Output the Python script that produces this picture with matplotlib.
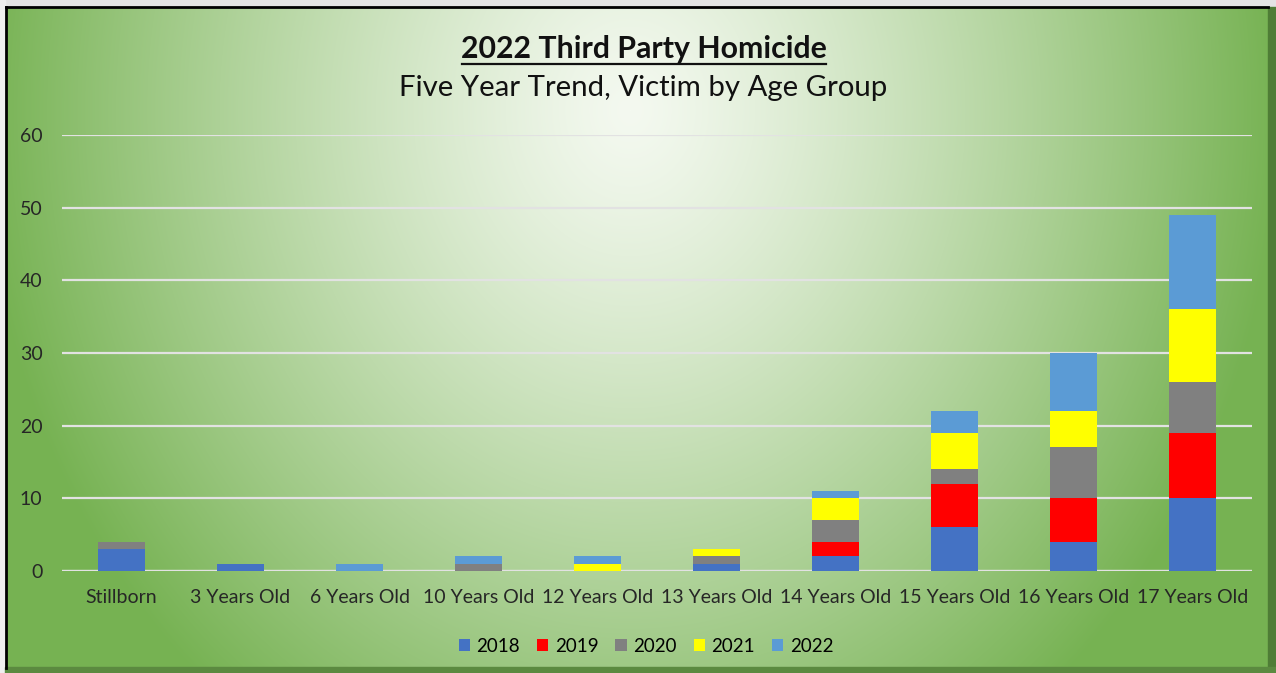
import matplotlib.pyplot as plt
import numpy as np
from matplotlib.patches import Rectangle

categories = ["Stillborn", "3 Years Old", "6 Years Old", "10 Years Old", "12 Years Old",
              "13 Years Old", "14 Years Old", "15 Years Old", "16 Years Old", "17 Years Old"]
years = ["2018", "2019", "2020", "2021", "2022"]
v2018 = [3, 1, 0, 0, 0, 1, 2, 6, 4, 10]
v2019 = [0, 0, 0, 0, 0, 0, 2, 6, 6, 9]
v2020 = [1, 0, 0, 1, 0, 1, 3, 2, 7, 7]
v2021 = [0, 0, 0, 0, 1, 1, 3, 5, 5, 10]
v2022 = [0, 0, 1, 1, 1, 0, 1, 3, 8, 13]
series = [v2018, v2019, v2020, v2021, v2022]
colors = ["#4472C4", "#FF0000", "#808080", "#FFFF00", "#5B9BD5"]

W, H = 1276, 673
fig = plt.figure(figsize=(W / 100, H / 100), dpi=100)

# background: radial green gradient inside a framed box
bg = fig.add_axes([0, 0, 1, 1])
bg.set_xlim(0, W)
bg.set_ylim(H, 0)
bg.axis("off")
yy, xx = np.mgrid[0:H, 0:W]
d = np.sqrt(((xx - 630) / 650.0) ** 2 + ((yy - 110) / 760.0) ** 2)
t = np.clip(d, 0, 1) ** 1.25
light = np.array([0xf4, 0xf9, 0xf0]) / 255
green = np.array([0x76, 0xb2, 0x52]) / 255
img = light[None, None, :] * (1 - t[..., None]) + green[None, None, :] * t[..., None]
bg.imshow(img, extent=[0, W, H, 0], aspect="auto", zorder=0)
bg.add_patch(Rectangle((0, 0), W, 7, color="#e4e4e4", zorder=1))
bg.add_patch(Rectangle((0, 0), 5, H, color="#efefef", zorder=1))
bg.add_patch(Rectangle((1268, 7), 8, H, color="#4f7d36", zorder=1))
bg.add_patch(Rectangle((5, 667), W, 6, color="#5b8a40", zorder=1))
bg.plot([6, 1268], [7, 7], color="black", lw=2, zorder=2)
bg.plot([6, 6], [7, 668], color="black", lw=2, zorder=2)

ax = fig.add_axes([62 / W, 1 - 571 / H, 1190 / W, 436 / H])
ax.patch.set_alpha(0)
x = np.arange(len(categories))
bottom = np.zeros(len(categories))
for yr, vals, c in zip(years, series, colors):
    ax.bar(x, vals, 0.4, bottom=bottom, color=c, label=yr, zorder=3)
    bottom += np.array(vals)

ax.set_xlim(-0.5, len(categories) - 0.5)
ax.set_ylim(0, 60)
ax.set_yticks(range(0, 61, 10))
ax.yaxis.grid(True, color="#e2e2e2", lw=1.6, zorder=1)
ax.set_axisbelow(True)
for s in ax.spines.values():
    s.set_visible(False)
ax.tick_params(length=0)
ax.tick_params(axis="y", pad=14)
ax.tick_params(axis="x", pad=13)
font = ["Lato", "DejaVu Sans"]
ax.set_xticks(x)
ax.set_xticklabels(categories, fontsize=14, family=font, color="#262626")
for lb in ax.get_yticklabels():
    lb.set_fontsize(14)
    lb.set_family(font)
    lb.set_color("#262626")
ax.axhline(0, color="#e2e2e2", lw=1.6, zorder=2)

fig.text(644 / W, 1 - 49 / H, "2022 Third Party Homicide", ha="center", va="center",
         fontsize=21.8, fontweight="bold", family=font, color="#111111")
fig.add_artist(plt.Line2D([462 / W, 826 / W], [1 - 64 / H, 1 - 64 / H], color="#111111", lw=1.6))
fig.text(643 / W, 1 - 88 / H, "Five Year Trend, Victim by Age Group", ha="center", va="center",
         fontsize=21.2, family=font, color="#111111")

leg = fig.legend(loc="center", bbox_to_anchor=(646 / W, 1 - 646 / H), ncol=5, frameon=False,
                 prop={"family": font, "size": 13.5}, handlelength=0.6, handleheight=0.6,
                 columnspacing=0.9, handletextpad=0.35)

fig.savefig("out.png", dpi=100)
